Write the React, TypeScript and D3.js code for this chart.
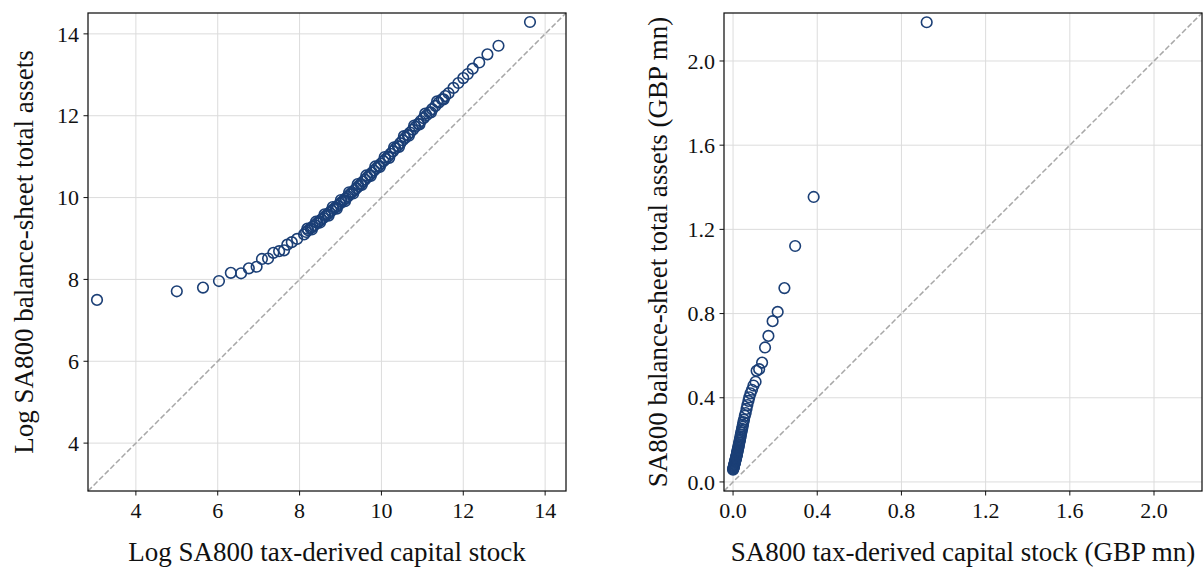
import React from 'react';
import * as d3 from 'd3';

// Left panel: log quantiles of tax-derived capital stock vs balance-sheet total assets
const LOG_CAPITAL = [
  3.05, 5.0, 5.64, 6.03, 6.32, 6.57, 6.76, 6.95, 7.08, 7.23, 7.36, 7.5, 7.62, 7.7, 7.81, 7.94, 8.11,
  8.16, 8.21, 8.27, 8.32, 8.37, 8.43, 8.48, 8.53, 8.58, 8.63, 8.68, 8.73, 8.78, 8.83, 8.88, 8.93,
  8.98, 9.03, 9.08, 9.13, 9.18, 9.23, 9.28, 9.34, 9.39, 9.44, 9.49, 9.55, 9.6, 9.66, 9.71, 9.77,
  9.82, 9.88, 9.93, 9.99, 10.05, 10.1, 10.16, 10.22, 10.28, 10.34, 10.4, 10.46, 10.52, 10.58,
  10.64, 10.7, 10.77, 10.83, 10.9, 10.96, 11.03, 11.1, 11.17, 11.24, 11.32, 11.4, 11.48, 11.56,
  11.64, 11.76, 11.88, 12.0, 12.11, 12.23, 12.39, 12.59, 12.86, 13.63,
  8.19, 8.3, 8.4, 8.5, 8.61, 8.71, 8.81, 8.91, 9.01, 9.11, 9.21, 9.31, 9.42, 9.52, 9.63,
  9.74, 9.85, 9.96, 10.08, 10.19, 10.31, 10.43, 10.55, 10.67, 10.8, 10.93, 11.07, 11.21, 11.36, 11.52,
];
const LOG_ASSETS = [
  7.5, 7.71, 7.8, 7.96, 8.16, 8.15, 8.27, 8.31, 8.5, 8.51, 8.65, 8.69, 8.71, 8.85, 8.91, 8.99, 9.1,
  9.16, 9.2, 9.25, 9.29, 9.33, 9.38, 9.42, 9.46, 9.5, 9.55, 9.59, 9.63, 9.68, 9.72, 9.76, 9.8,
  9.85, 9.89, 9.94, 9.98, 10.03, 10.08, 10.13, 10.18, 10.23, 10.28, 10.33, 10.39, 10.44, 10.5, 10.55, 10.61,
  10.66, 10.72, 10.77, 10.83, 10.89, 10.94, 11.0, 11.07, 11.13, 11.2, 11.26, 11.33, 11.4, 11.46,
  11.53, 11.59, 11.66, 11.73, 11.8, 11.87, 11.94, 12.01, 12.08, 12.16, 12.24, 12.32, 12.4, 12.48,
  12.55, 12.68, 12.8, 12.92, 13.02, 13.15, 13.3, 13.5, 13.71, 14.29,
  9.24, 9.22, 9.41, 9.39, 9.59, 9.56, 9.77, 9.73, 9.94, 9.91, 10.13, 10.1, 10.33, 10.31, 10.54,
  10.53, 10.76, 10.75, 10.99, 10.97, 11.23, 11.24, 11.5, 11.51, 11.76, 11.79, 12.05, 12.08, 12.35, 12.4,
];

// Right panel: the same comparison in levels (GBP mn)
const CAPITAL_MN = [
  0.0, 0.001, 0.002, 0.003, 0.004, 0.005, 0.006, 0.007, 0.008, 0.009, 0.01, 0.011, 0.012, 0.013,
  0.014, 0.015, 0.016, 0.017, 0.018, 0.019, 0.02, 0.021, 0.022, 0.023, 0.025, 0.026, 0.027, 0.028,
  0.03, 0.031, 0.033, 0.034, 0.036, 0.037, 0.039, 0.041, 0.043, 0.045, 0.047, 0.049,
  0.052, 0.056, 0.06, 0.064, 0.068, 0.073, 0.077, 0.083, 0.09, 0.097, 0.107, 0.112, 0.124, 0.138,
  0.152, 0.168, 0.188, 0.212, 0.244, 0.295, 0.383, 0.92,
];
const ASSETS_MN = [
  0.058, 0.062, 0.066, 0.07, 0.074, 0.078, 0.082, 0.086, 0.09, 0.094, 0.098, 0.102, 0.106, 0.11,
  0.114, 0.118, 0.122, 0.127, 0.131, 0.136, 0.141, 0.146, 0.151, 0.156, 0.162, 0.168, 0.174, 0.18,
  0.187, 0.194, 0.201, 0.209, 0.217, 0.225, 0.234, 0.243, 0.252, 0.262, 0.272, 0.284,
  0.296, 0.314, 0.327, 0.347, 0.365, 0.385, 0.402, 0.421, 0.438, 0.458, 0.476, 0.528, 0.536, 0.567,
  0.639, 0.694, 0.764, 0.808, 0.921, 1.121, 1.354, 2.184,
];

const LOG_TICKS = [4, 6, 8, 10, 12, 14];
const LEVEL_TICKS = [0, 0.4, 0.8, 1.2, 1.6, 2.0];

const LOG_DOMAIN: [number, number] = [2.83, 14.51];
const LEVEL_DOMAIN: [number, number] = [-0.043, 2.228];

const W = 1203;
const H = 568;
const FONT = '"Liberation Serif", "Times New Roman", serif';
const NAVY = '#1b3f76';

type PanelProps = {
  left: number;
  top: number;
  size: number;
  domain: [number, number];
  ticks: number[];
  fmt: (d: number) => string;
  xs: number[];
  ys: number[];
  xLabel: string;
  yLabel: string;
  yLabelX: number;
};

function Panel({ left, top, size, domain, ticks, fmt, xs, ys, xLabel, yLabel, yLabelX }: PanelProps) {
  const x = d3.scaleLinear().domain(domain).range([left, left + size]);
  const y = d3.scaleLinear().domain(domain).range([top + size, top]);
  const bottom = top + size;
  const right = left + size;
  const points = xs.map((v, i) => [v, ys[i]] as [number, number]);

  return (
    <g>
      {/* grid */}
      {ticks.map((t) => (
        <line key={'gx' + t} x1={x(t)} x2={x(t)} y1={top} y2={bottom} stroke="#dcdcdc" strokeWidth={1} />
      ))}
      {ticks.map((t) => (
        <line key={'gy' + t} x1={left} x2={right} y1={y(t)} y2={y(t)} stroke="#dcdcdc" strokeWidth={1} />
      ))}
      {/* 45-degree reference */}
      <line
        x1={x(domain[0])}
        y1={y(domain[0])}
        x2={x(domain[1])}
        y2={y(domain[1])}
        stroke="#a8a8a8"
        strokeWidth={1.5}
        strokeDasharray="5.5,2.4"
      />
      {/* quantile points */}
      {points.map(([a, b], i) => (
        <circle key={i} cx={x(a)} cy={y(b)} r={5.3} fill="none" stroke={NAVY} strokeWidth={1.6} />
      ))}
      {/* frame */}
      <rect x={left} y={top} width={size} height={size} fill="none" stroke="#111" strokeWidth={1.25} />
      {/* ticks */}
      {ticks.map((t) => (
        <g key={'tx' + t}>
          <line x1={x(t)} x2={x(t)} y1={bottom} y2={bottom + 4.5} stroke="#111" strokeWidth={1} />
          <text x={x(t)} y={bottom + 27} textAnchor="middle" fontFamily={FONT} fontSize={22} fill="#111">
            {fmt(t)}
          </text>
        </g>
      ))}
      {ticks.map((t) => (
        <g key={'ty' + t}>
          <line x1={left - 4.5} x2={left} y1={y(t)} y2={y(t)} stroke="#111" strokeWidth={1} />
          <text
            x={left - 9}
            y={y(t)}
            dy="0.35em"
            textAnchor="end"
            fontFamily={FONT}
            fontSize={22}
            fill="#111"
          >
            {fmt(t)}
          </text>
        </g>
      ))}
      <text
        x={(left + right) / 2}
        y={bottom + 70}
        textAnchor="middle"
        fontFamily={FONT}
        fontSize={27}
        fill="#111"
      >
        {xLabel}
      </text>
      <text
        transform={`translate(${yLabelX},${(top + bottom) / 2}) rotate(-90)`}
        textAnchor="middle"
        fontFamily={FONT}
        fontSize={27}
        fill="#111"
      >
        {yLabel}
      </text>
    </g>
  );
}

export default function App() {
  return (
    <div style={{ position: 'absolute', left: 0, top: 0 }}>
      <svg width={W} height={H} viewBox={`0 0 ${W} ${H}`} style={{ display: 'block', background: '#fff' }}>
        <Panel
          left={88}
          top={13}
          size={478}
          domain={LOG_DOMAIN}
          ticks={LOG_TICKS}
          fmt={(d) => String(d)}
          xs={LOG_CAPITAL}
          ys={LOG_ASSETS}
          xLabel="Log SA800 tax-derived capital stock"
          yLabel="Log SA800 balance-sheet total assets"
          yLabelX={33}
        />
        <Panel
          left={724}
          top={13}
          size={478}
          domain={LEVEL_DOMAIN}
          ticks={LEVEL_TICKS}
          fmt={d3.format('.1f')}
          xs={CAPITAL_MN}
          ys={ASSETS_MN}
          xLabel="SA800 tax-derived capital stock (GBP mn)"
          yLabel="SA800 balance-sheet total assets (GBP mn)"
          yLabelX={667}
        />
      </svg>
    </div>
  );
}
